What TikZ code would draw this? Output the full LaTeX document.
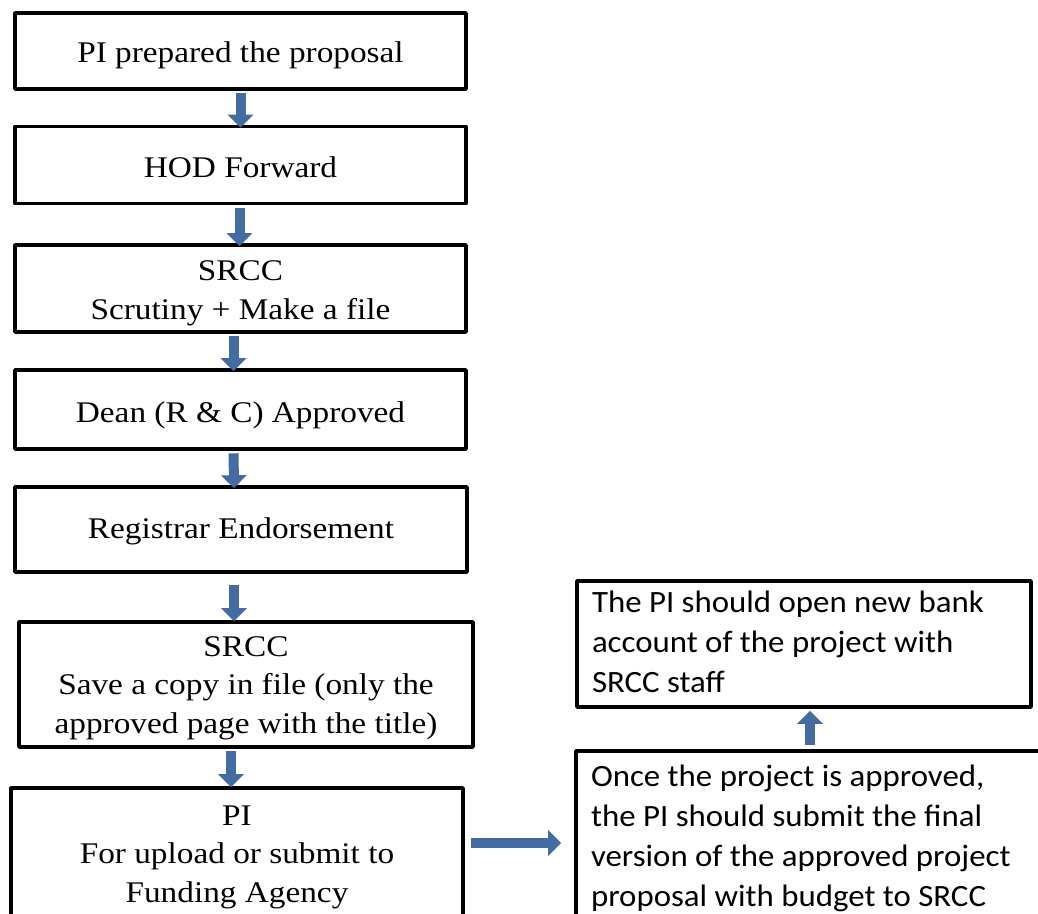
\documentclass[tikz,border=0pt]{standalone}
\usepackage{fontspec}
\usetikzlibrary{arrows.meta,calc}
\newfontfamily\boxserif[FakeStretch=1.11]{Liberation Serif}
\newfontfamily\boxsans[FakeStretch=1.06]{Carlito}
\definecolor{flowblue}{RGB}{66,108,162}
% lines of a box, lowered a little inside the frame (the frame keeps its size)
\newcommand\centredlines[2]{\raisebox{#1}[\height][\depth]{\begin{tabular}{@{}c@{}}#2\end{tabular}}}
\newcommand\leftlines[3]{\raisebox{#1}[\height][\depth]{\begin{tabular}{@{}p{#2}@{}}#3\end{tabular}}}
\tikzset{
  x=1pt, y=-1pt,
  stepbox/.style={draw=black, line width=3.6pt, line join=round, inner sep=0pt,
    font=\boxserif\fontsize{30}{38.5}\selectfont},
  notebox/.style={draw=black, line width=3.6pt, line join=round, inner sep=0pt,
    font=\boxsans\fontsize{31}{40}\selectfont},
  blockarrow/.style={draw=flowblue, line width=10pt,
    -{Triangle[width=25pt,length=13pt]}}
}
\begin{document}
\begin{tikzpicture}
\useasboundingbox (0,0) rectangle (1038,913);

% main chain of steps
\node[stepbox, minimum width=451pt, minimum height=76pt]  (b1) at (240.5,51)
  {\centredlines{-4pt}{PI prepared the proposal}};
\node[stepbox, minimum width=451pt, minimum height=77pt]  (b2) at (240.5,165)
  {\centredlines{-5pt}{HOD Forward}};
\node[stepbox, minimum width=451pt, minimum height=87pt]  (b3) at (240.5,288.5)
  {\centredlines{-4pt}{SRCC\\Scrutiny + Make a file}};
\node[stepbox, minimum width=451pt, minimum height=79pt]  (b4) at (240.5,409.5)
  {\centredlines{-5pt}{Dean (R \& C) Approved}};
\node[stepbox, minimum width=452pt, minimum height=85pt]  (b5) at (241,529.5)
  {\centredlines{-1.5pt}{Registrar Endorsement}};
\node[stepbox, minimum width=454pt, minimum height=125pt] (b6) at (246,684.5)
  {\centredlines{-2.5pt}{SRCC\\Save a copy in file (only the\\approved page with the title)}};
\node[stepbox, minimum width=452pt, minimum height=130pt] (b7) at (237,853)
  {\centredlines{-3pt}{PI\\For upload or submit to\\Funding Agency}};

% follow-up notes on the right
\node[notebox, minimum width=479pt, minimum height=169pt] (b8) at (815.5,835.5)
  {\leftlines{-3pt}{449pt}{Once the project is approved,\\the PI should submit the final\\version of the approved project\\proposal with budget to SRCC}};
\node[notebox, minimum width=454pt, minimum height=126pt] (b9) at (804,644)
  {\leftlines{0pt}{424pt}{The PI should open new bank\\account of the project with\\SRCC staff}};

% arrows between the steps
\draw[blockarrow, shorten <=2.5pt, shorten >=-3pt] (b1.south) -- (b2.north);
\draw[blockarrow, shorten <=2.5pt, shorten >=-3pt] ([xshift=-1pt]b2.south) -- ([xshift=-1pt]b3.north);
\draw[blockarrow, shorten <=2.5pt, shorten >=-3pt] ([xshift=-7pt]b3.south) -- ([xshift=-7pt]b4.north);
\draw[blockarrow, shorten <=2.5pt, shorten >=-3pt] ([xshift=-7pt]b4.south) -- ([xshift=-7pt]b5.north);
\draw[blockarrow, shorten <=11pt, shorten >=-1pt] ([xshift=-7pt]b5.south) -- ([xshift=-7pt]b5.south |- b6.north);
\draw[blockarrow, shorten <=2.5pt, shorten >=-1pt] ([xshift=-15pt]b6.south) -- ([xshift=-15pt]b6.south |- b7.north);
\draw[blockarrow, shorten <=6pt, shorten >=13pt] ([yshift=10pt]b7.east) -- ([yshift=10pt]b7.east -| b8.west);
\draw[blockarrow, shorten <=4pt, shorten >=2pt] ([xshift=-5.5pt]b8.north) -- ([xshift=-5.5pt]b8.north |- b9.south);
\end{tikzpicture}
\end{document}
